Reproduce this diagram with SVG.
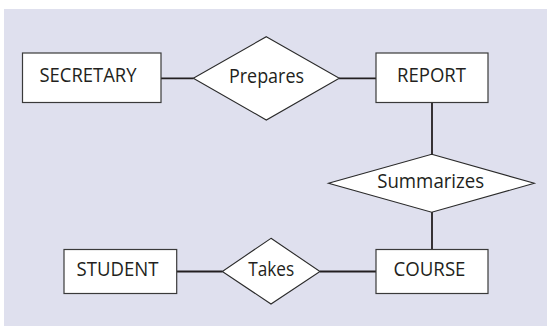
<svg xmlns="http://www.w3.org/2000/svg" width="547" height="327" viewBox="0 0 547 327">
<style>
.ent{fill:#ffffff;stroke:#3a3a3a;stroke-width:1.2}
.rel{fill:#ffffff;stroke:#2a2a2a;stroke-width:1.1}
.lbl{font-family:"Open Sans","Liberation Sans",sans-serif;font-size:20px;fill:#231f20;text-anchor:middle}
.con line{stroke:#231f20;stroke-width:1.8}
</style>
<rect x="4" y="9" width="543" height="317" fill="#dfe0ee"/>
<g id="connectors" class="con">
<line x1="161" y1="78.3" x2="193.5" y2="78.3"/>
<line x1="339" y1="78.3" x2="376" y2="78.3"/>
<line x1="432" y1="102.5" x2="432" y2="154.5"/>
<line x1="432" y1="212" x2="432" y2="249.5"/>
<line x1="177" y1="271.5" x2="222.5" y2="271.5"/>
<line x1="320" y1="271.5" x2="376" y2="271.5"/>
</g>
<g id="secretary">
<rect class="ent" x="22.5" y="53" width="138.5" height="49.5"/>
<text class="lbl" x="88" y="82.3" textLength="97" lengthAdjust="spacingAndGlyphs">SECRETARY</text>
</g>
<g id="prepares">
<polygon class="rel" points="266.3,36.7 339.3,78.3 266.3,120 193.3,78.3"/>
<text class="lbl" x="266.5" y="83" textLength="75" lengthAdjust="spacingAndGlyphs">Prepares</text>
</g>
<g id="report">
<rect class="ent" x="376" y="53" width="112" height="49.5"/>
<text class="lbl" x="431.5" y="82.3" textLength="69" lengthAdjust="spacingAndGlyphs">REPORT</text>
</g>
<g id="summarizes">
<polygon class="rel" points="431.7,154.3 534.3,183.3 431.7,212.3 328.5,183.3"/>
<text class="lbl" x="430.7" y="188.3" textLength="107" lengthAdjust="spacingAndGlyphs">Summarizes</text>
</g>
<g id="course">
<rect class="ent" x="376" y="249.5" width="112" height="44"/>
<text class="lbl" x="429.5" y="275.7" textLength="72" lengthAdjust="spacingAndGlyphs">COURSE</text>
</g>
<g id="takes">
<polygon class="rel" points="271,238.3 320,271.5 271,304 222.3,271.5"/>
<text class="lbl" x="271.2" y="275.7" textLength="46" lengthAdjust="spacingAndGlyphs">Takes</text>
</g>
<g id="student">
<rect class="ent" x="64" y="249.5" width="112.7" height="44"/>
<text class="lbl" x="117.5" y="275.7" textLength="82" lengthAdjust="spacingAndGlyphs">STUDENT</text>
</g>
</svg>
